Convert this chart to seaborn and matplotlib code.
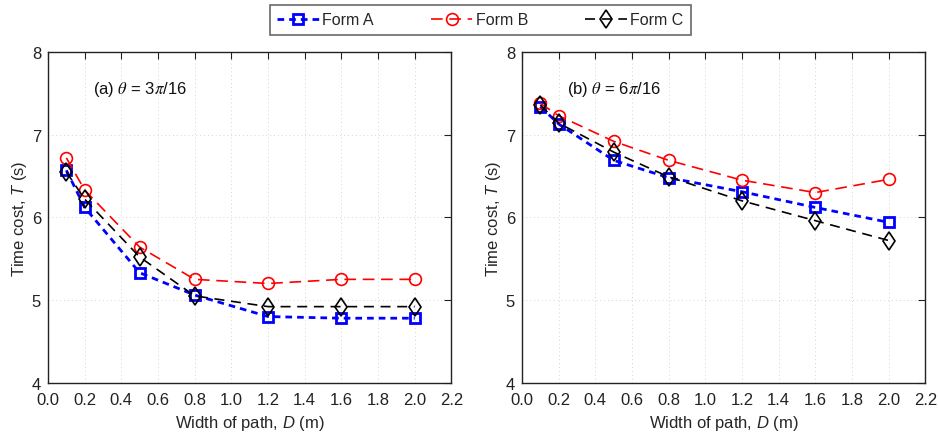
import matplotlib
matplotlib.use("Agg")
import matplotlib.pyplot as plt
import seaborn as sns
import pandas as pd

# Path widths (m)
widths = [0.1, 0.2, 0.5, 0.8, 1.2, 1.6, 2.0]

# Time cost (s), theta = 3pi/16
a_form_a = [6.57, 6.12, 5.33, 5.06, 4.80, 4.78, 4.78]
a_form_b = [6.72, 6.33, 5.64, 5.25, 5.20, 5.25, 5.25]
a_form_c = [6.55, 6.22, 5.52, 5.05, 4.92, 4.92, 4.92]

# Time cost (s), theta = 6pi/16
b_form_a = [7.34, 7.13, 6.69, 6.48, 6.31, 6.12, 5.94]
b_form_b = [7.38, 7.23, 6.92, 6.69, 6.45, 6.30, 6.46]
b_form_c = [7.36, 7.14, 6.79, 6.49, 6.20, 5.96, 5.72]

forms = ["Form A", "Form B", "Form C"]
panel_titles = [r"(a) $\theta$ = 3$\pi$/16", r"(b) $\theta$ = 6$\pi$/16"]
x_ticks = [0.0, 0.2, 0.4, 0.6, 0.8, 1.0, 1.2, 1.4, 1.6, 1.8, 2.0, 2.2]
y_ticks = [4, 5, 6, 7, 8]

sns.set_theme(style="white")
plt.rcParams["font.family"] = ["Liberation Sans", "DejaVu Sans"]
plt.rcParams["mathtext.fontset"] = "custom"
plt.rcParams["mathtext.rm"] = "Liberation Sans"
plt.rcParams["mathtext.it"] = "Liberation Sans:italic"

styles = {
    "Form A": dict(color="#0000ff", marker="s", lw=2.0, dashes=(2.4, 1.8), ms=6.5, mew=2.0),
    "Form B": dict(color="#ff0000", marker="o", lw=1.2, dashes=(7, 4), ms=8.5, mew=1.2),
    "Form C": dict(color="#000000", marker="d", lw=1.2, dashes=(6, 4), ms=9.5, mew=1.2),
}

fig = plt.figure(figsize=(9.38, 4.35), dpi=100)
ax_a = fig.add_axes([0.0512, 0.118, 0.430, 0.760])
ax_b = fig.add_axes([0.5565, 0.118, 0.430, 0.760])

panels = [
    (ax_a, [a_form_a, a_form_b, a_form_c]),
    (ax_b, [b_form_a, b_form_b, b_form_c]),
]

for (ax, series), title in zip(panels, panel_titles):
    for name, vals in zip(forms, series):
        df = pd.DataFrame({"D": widths, "T": vals})
        st = styles[name]
        sns.lineplot(data=df, x="D", y="T", ax=ax, color=st["color"],
                     marker=st["marker"], markersize=st["ms"],
                     markerfacecolor="none", markeredgecolor=st["color"],
                     markeredgewidth=st["mew"], linewidth=st["lw"],
                     dashes=False, label=name, legend=False)
        ax.lines[-1].set_dashes(st["dashes"])
    ax.set_xlim(0.0, 2.2)
    ax.set_ylim(4, 8)
    ax.set_xticks(x_ticks)
    ax.set_xticklabels([f"{t:.1f}" for t in x_ticks])
    ax.set_yticks(y_ticks)
    ax.set_xlabel("Width of path, $D$ (m)", fontsize=12, labelpad=4)
    ax.set_ylabel("Time cost, $T$ (s)", fontsize=12, labelpad=2)
    ax.tick_params(direction="in", top=True, right=True, length=5, width=0.8,
                   labelsize=12, color="#222222", labelcolor="#222222")
    ax.tick_params(axis="x", pad=7)
    ax.tick_params(axis="y", pad=5)
    ax.grid(True, linestyle=(0, (1, 3)), color="#d4d4d4", linewidth=0.7)
    for sp in ax.spines.values():
        sp.set_color("#222222")
        sp.set_linewidth(1.0)
    ax.text(0.112, 0.89, title, transform=ax.transAxes, fontsize=12,
            color="#111111", ha="left", va="center", math_fontfamily="stix")

handles, labels = ax_a.get_legend_handles_labels()
leg = fig.legend(handles, labels, loc="center", bbox_to_anchor=(0.512, 0.952),
                 ncol=3, frameon=True, fontsize=11.5, handlelength=2.6,
                 handletextpad=0.2, columnspacing=3.6, borderpad=0.45,
                 borderaxespad=0.0, fancybox=False)
leg.get_frame().set_edgecolor("#444444")
leg.get_frame().set_linewidth(1.2)

fig.savefig("out.png", dpi=100)
